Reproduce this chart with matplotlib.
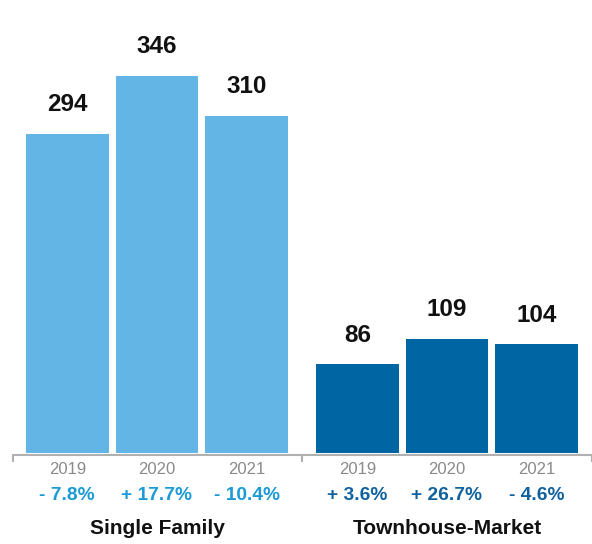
import numpy as np
import matplotlib
matplotlib.use('Agg')
import matplotlib.pyplot as plt

#%% Data

years = ['2019', '2020', '2021']
groups = ['Single Family', 'Townhouse-Market']
single_family = [294, 346, 310]
townhouse = [86, 109, 104]
sf_change = ['- 7.8%', '+ 17.7%', '- 10.4%']
th_change = ['+ 3.6%', '+ 26.7%', '- 4.6%']

#%% Style

plt.rcParams['font.family'] = ['Liberation Sans', 'DejaVu Sans']

bar_colors = ['#63b5e5', '#0066a3']
pct_colors = ['#1b9ad7', '#10619f']
axis_gray = '#b0b0b0'
dpi = 100

fig = plt.figure(figsize=(592 / dpi, 544 / dpi), dpi=dpi)
ax = fig.add_axes([0, 91 / 544, 1, 453 / 544])

group_offsets = [0, 3.233]
bar_width = 0.922

series = [single_family, townhouse]
changes = [sf_change, th_change]

for iGroup, (vals, pcts) in enumerate(zip(series, changes)):
    xs = np.arange(len(years)) + group_offsets[iGroup]
    ax.bar(xs, vals, width=bar_width, bottom=0, color=bar_colors[iGroup],
           linewidth=0)
    for x, v, yr, pct in zip(xs, vals, years, pcts):
        # value on top of the bar
        ax.annotate(str(v), xy=(x, v), xytext=(0, 29), textcoords='offset pixels',
                    ha='center', va='center', fontsize=17.5, fontweight='bold',
                    color='#111111')
        # year and change under the axis
        ax.annotate(yr, xy=(x, 0), xycoords=('data', 'axes fraction'),
                    xytext=(0, -16), textcoords='offset pixels',
                    ha='center', va='center', fontsize=12, color='#8a8a8a')
        ax.annotate(pct, xy=(x, 0), xycoords=('data', 'axes fraction'),
                    xytext=(0, -42), textcoords='offset pixels',
                    ha='center', va='center', fontsize=13.8, fontweight='bold',
                    color=pct_colors[iGroup])
    ax.annotate(groups[iGroup], xy=(xs[1], 0), xycoords=('data', 'axes fraction'),
                xytext=(0, -76), textcoords='offset pixels',
                ha='center', va='center', fontsize=15, fontweight='bold',
                color='#111111', annotation_clip=False)

# ...for each group

ax.set_xlim(-0.75, 5.828)
ax.set_ylim(5.7, 414.5)

for side in ['top', 'right', 'left']:
    ax.spines[side].set_visible(False)
ax.spines['bottom'].set_color(axis_gray)
ax.spines['bottom'].set_linewidth(1.5)
ax.spines['bottom'].set_position(('outward', 1.5))
ax.spines['bottom'].set_bounds(-0.61, 5.85)

ax.set_yticks([])
ax.set_xticks([-0.61, 2.617, 5.85])
ax.set_xticklabels([])
ax.tick_params(axis='x', direction='out', length=5, width=1.5, color=axis_gray)

fig.savefig('out.png', dpi=dpi)
